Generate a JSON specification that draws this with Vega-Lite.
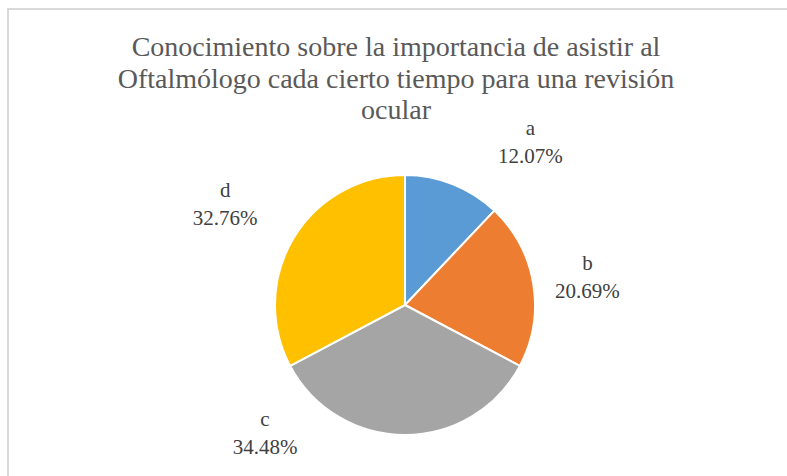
{
  "$schema": "https://vega.github.io/schema/vega-lite/v6.json",
  "width": 794,
  "height": 592,
  "autosize": {"type": "none"},
  "padding": {"left": 8, "top": 9, "right": 0, "bottom": 0},
  "background": "white",
  "view": {"stroke": "#d9d9d9", "strokeWidth": 2, "fill": "white"},
  "title": {
    "text": ["Conocimiento sobre la importancia de asistir al", "Oftalmólogo cada cierto tiempo para una revisión", "ocular"],
    "font": "Liberation Serif",
    "fontSize": 28,
    "fontWeight": "normal",
    "color": "#595959",
    "lineHeight": 31.5,
    "anchor": "middle",
    "offset": -116,
    "dx": -9
  },
  "data": {"values": [
    {"cat": "a", "share": 0.1207},
    {"cat": "b", "share": 0.2069},
    {"cat": "c", "share": 0.3448},
    {"cat": "d", "share": 0.3276}
  ]},
  "transform": [{"calculate": "[datum.cat, format(datum.share, '.2%')]", "as": "label"}],
  "layer": [
    {
      "mark": {"type": "arc", "radius": 130, "stroke": "white", "strokeWidth": 2},
      "encoding": {
        "theta": {"field": "share", "type": "quantitative", "stack": true},
        "order": {"field": "cat"},
        "color": {"field": "cat", "type": "nominal", "legend": null,
          "scale": {"domain": ["a", "b", "c", "d"], "range": ["#5B9BD5", "#ED7D31", "#A5A5A5", "#FFC000"]}}
      }
    },
    {
      "mark": {"type": "text", "radius": 190, "font": "Liberation Serif", "fontSize": 21, "color": "#404040", "lineHeight": 28, "baseline": "middle", "dx": 55, "dy": 1},
      "encoding": {
        "theta": {"field": "share", "type": "quantitative", "stack": true},
        "order": {"field": "cat"},
        "text": {"condition": {"test": "datum.cat == 'a'", "field": "label"}, "value": ""}
      }
    },
    {
      "mark": {"type": "text", "radius": 190, "font": "Liberation Serif", "fontSize": 21, "color": "#404040", "lineHeight": 28, "baseline": "middle", "dx": -5, "dy": -10},
      "encoding": {
        "theta": {"field": "share", "type": "quantitative", "stack": true},
        "order": {"field": "cat"},
        "text": {"condition": {"test": "datum.cat == 'b'", "field": "label"}, "value": ""}
      }
    },
    {
      "mark": {"type": "text", "radius": 190, "font": "Liberation Serif", "fontSize": 21, "color": "#404040", "lineHeight": 28, "baseline": "middle", "dx": -140, "dy": -75},
      "encoding": {
        "theta": {"field": "share", "type": "quantitative", "stack": true},
        "order": {"field": "cat"},
        "text": {"condition": {"test": "datum.cat == 'c'", "field": "label"}, "value": ""}
      }
    },
    {
      "mark": {"type": "text", "radius": 190, "font": "Liberation Serif", "fontSize": 21, "color": "#404040", "lineHeight": 28, "baseline": "middle", "dx": -17, "dy": -16},
      "encoding": {
        "theta": {"field": "share", "type": "quantitative", "stack": true},
        "order": {"field": "cat"},
        "text": {"condition": {"test": "datum.cat == 'd'", "field": "label"}, "value": ""}
      }
    }
  ]
}
